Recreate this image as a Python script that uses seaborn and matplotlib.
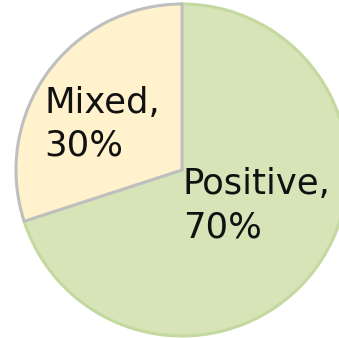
import matplotlib
matplotlib.use("Agg")
import matplotlib.pyplot as plt
import seaborn as sns

categories = ["Positive", "Mixed"]
values = [70, 30]
colors = ["#d6e4b8", "#fff2cc"]
edges = ["#c4d9a0", "#bfbfbf"]

sns.set_theme(style="white")
plt.rcParams['font.family'] = ['DejaVu Sans']

fig = plt.figure(figsize=(3.39, 3.38), dpi=100)
ax = fig.add_axes([0, 0, 1, 1])
wedges, _ = ax.pie(values, colors=colors, startangle=90, counterclock=False,
                   radius=166, center=(182, 168),
                   wedgeprops=dict(linewidth=2.2))
for w, ec in zip(wedges, edges):
    w.set_edgecolor(ec)
ax.set_xlim(0, 339)
ax.set_ylim(0, 338)
ax.set_aspect('equal')
ax.axis('off')

label_pos = [(183, 101), (44, 182)]
for cat, v, (x, y) in zip(categories, values, label_pos):
    ax.text(x, y, f"{cat},\n{v}%", fontsize=25.5, color="#111111",
            ha="left", va="baseline", linespacing=1.33)

fig.savefig("out.png", dpi=100)
